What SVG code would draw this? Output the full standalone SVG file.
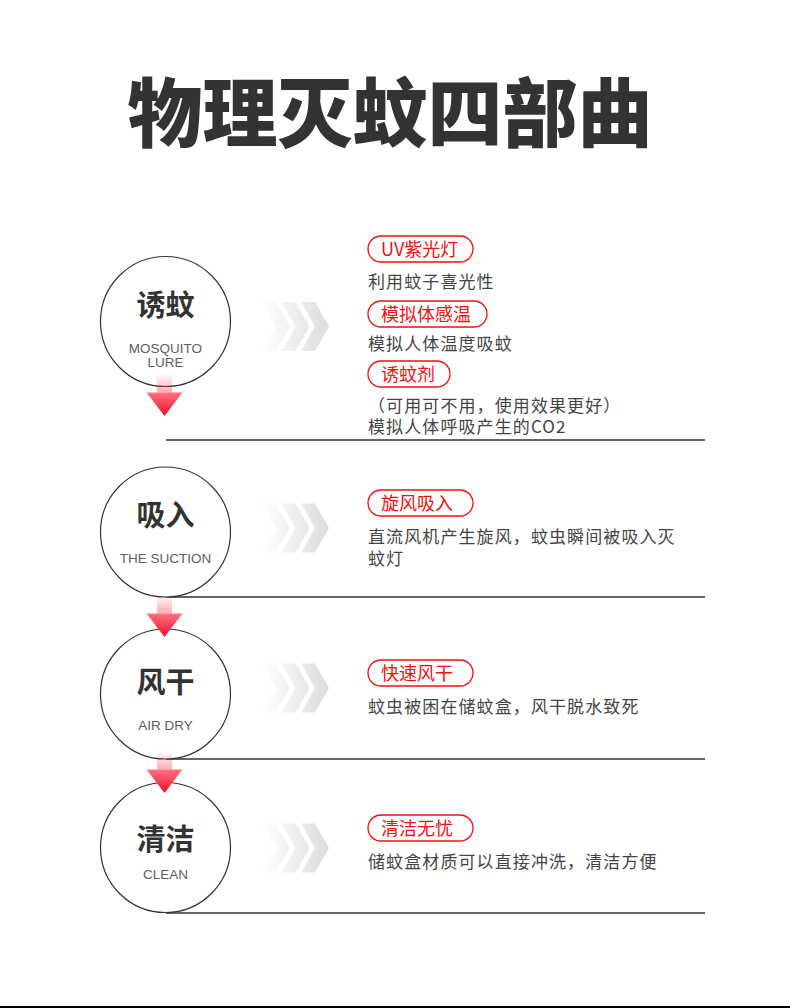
<svg xmlns="http://www.w3.org/2000/svg" width="790" height="1008" viewBox="0 0 790 1008">
<style>
.title{font-family:"Noto Sans CJK SC","Noto Sans",sans-serif;font-weight:900;font-size:75px;fill:#333}
.cn{font-family:"Noto Sans CJK SC","Noto Sans",sans-serif;font-weight:700;font-size:29px;fill:#333;text-anchor:middle}
.en{font-family:"Liberation Sans","Noto Sans CJK SC",sans-serif;font-size:13.5px;fill:#5e5e5e;text-anchor:middle}
.pill{fill:#fff;stroke:#f21010;stroke-width:1.3}
.pt{font-family:"Noto Sans CJK SC","Noto Sans",sans-serif;font-size:18px;fill:#f21010}
.desc{font-family:"Noto Sans CJK SC","Noto Sans",sans-serif;font-size:17px;letter-spacing:1.1px;fill:#444}
.ring{fill:#fff;stroke:#333;stroke-width:1.2}
.rule{stroke:#333;stroke-width:1.5}
</style>
<defs>
<linearGradient id="chevG" x1="0" y1="0" x2="1" y2="0">
<stop offset="0" stop-color="#fff"/>
<stop offset="1" stop-color="#dcdcdc"/>
</linearGradient>
<linearGradient id="shaftG" x1="0" y1="0" x2="0" y2="1">
<stop offset="0" stop-color="#ff2a40" stop-opacity="0"/>
<stop offset="1" stop-color="#ff2a40" stop-opacity="0.4"/>
</linearGradient>
<linearGradient id="headG" x1="0" y1="0" x2="0" y2="1">
<stop offset="0" stop-color="#ff7484"/>
<stop offset="1" stop-color="#f50c26"/>
</linearGradient>
<path id="chev" d="M262,-24.5h14l14,24.5l-14,24.5h-14l14,-24.5z M281.5,-24.5h14l14,24.5l-14,24.5h-14l14,-24.5z M301,-24.5h14l14,24.5l-14,24.5h-14l14,-24.5z" fill="url(#chevG)"/>
<g id="arr">
<rect x="157" y="0" width="15" height="19" fill="url(#shaftG)"/>
<path d="M146.5,19h36l-18,23.5z" fill="url(#headG)"/>
</g>
</defs>

<text class="title" x="390" y="141" text-anchor="middle">物理灭蚊四部曲</text>

<g id="connectors">
<line class="rule" x1="166" y1="440" x2="705" y2="440"/>
<line class="rule" x1="166" y1="597" x2="705" y2="597"/>
<line class="rule" x1="166" y1="759" x2="705" y2="759"/>
<line class="rule" x1="166" y1="913" x2="705" y2="913"/>
<use href="#chev" transform="translate(0,326.5)"/>
<use href="#chev" transform="translate(0,528)"/>
<use href="#chev" transform="translate(0,688)"/>
<use href="#chev" transform="translate(0,848)"/>
</g>

<g id="node-lure">
<circle class="ring" cx="165.5" cy="321.5" r="65"/>
<text class="cn" x="165.5" y="316">诱蚊</text>
<text class="en" x="165.5" y="353">MOSQUITO</text>
<text class="en" x="165.5" y="367">LURE</text>
</g>
<g id="node-suction">
<circle class="ring" cx="165.5" cy="532" r="65"/>
<text class="cn" x="165.5" y="526">吸入</text>
<text class="en" x="165.5" y="563">THE SUCTION</text>
</g>
<g id="node-airdry">
<circle class="ring" cx="165.5" cy="694" r="65"/>
<text class="cn" x="165.5" y="693">风干</text>
<text class="en" x="165.5" y="730">AIR DRY</text>
</g>
<g id="node-clean">
<circle class="ring" cx="165.5" cy="847.5" r="65"/>
<text class="cn" x="165.5" y="850">清洁</text>
<text class="en" x="165.5" y="879">CLEAN</text>
</g>

<g id="flow-arrows">
<use href="#arr" transform="translate(0,373.5)"/>
<use href="#arr" transform="translate(0,594.5)"/>
<use href="#arr" transform="translate(0,750.5)"/>
</g>

<g id="text-lure">
<rect class="pill" x="368" y="236" width="105" height="26" rx="13"/>
<text class="pt" x="381" y="256">UV紫光灯</text>
<text class="desc" x="368" y="288">利用蚊子喜光性</text>
<rect class="pill" x="368" y="301" width="119" height="26" rx="13"/>
<text class="pt" x="381" y="321">模拟体感温</text>
<text class="desc" x="368" y="350">模拟人体温度吸蚊</text>
<rect class="pill" x="368" y="361" width="82" height="26" rx="13"/>
<text class="pt" x="381" y="381">诱蚊剂</text>
<text class="desc" x="368" y="412">（可用可不用，使用效果更好）</text>
<text class="desc" x="368" y="433">模拟人体呼吸产生的CO2</text>
</g>
<g id="text-suction">
<rect class="pill" x="368" y="490" width="105" height="26" rx="13"/>
<text class="pt" x="381" y="510">旋风吸入</text>
<text class="desc" x="368" y="543">直流风机产生旋风，蚊虫瞬间被吸入灭</text>
<text class="desc" x="368" y="565">蚊灯</text>
</g>
<g id="text-airdry">
<rect class="pill" x="368" y="660" width="105" height="26" rx="13"/>
<text class="pt" x="381" y="680">快速风干</text>
<text class="desc" x="368" y="713">蚊虫被困在储蚊盒，风干脱水致死</text>
</g>
<g id="text-clean">
<rect class="pill" x="368" y="815" width="105" height="26" rx="13"/>
<text class="pt" x="381" y="835">清洁无忧</text>
<text class="desc" x="368" y="868">储蚊盒材质可以直接冲洗，清洁方便</text>
</g>

<rect x="0" y="1006" width="790" height="2" fill="#000"/>
</svg>
